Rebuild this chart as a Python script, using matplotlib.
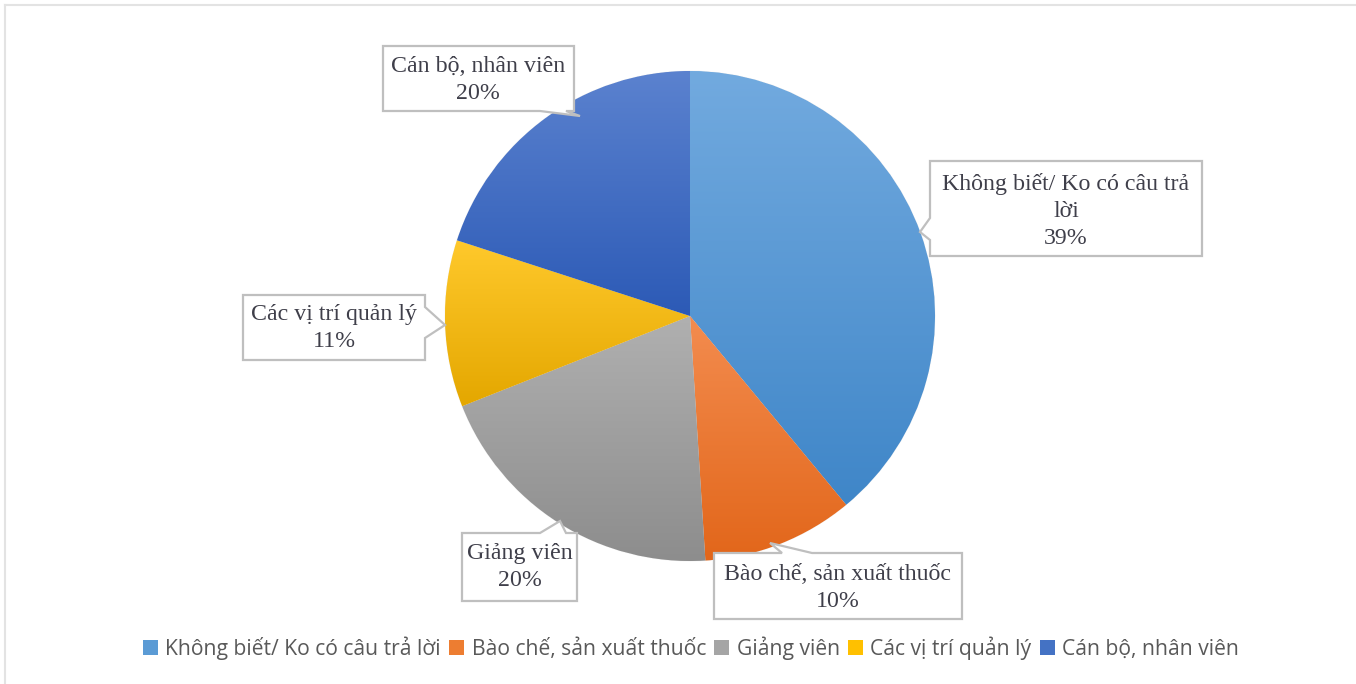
import numpy as np
import matplotlib
matplotlib.use("Agg")
import matplotlib.pyplot as plt
from matplotlib import font_manager
from matplotlib.patches import Polygon
from matplotlib.lines import Line2D
from matplotlib.colors import to_rgb

categories = ["Không biết/ Ko có câu trả lời", "Bào chế, sản xuất thuốc",
              "Giảng viên", "Các vị trí quản lý", "Cán bộ, nhân viên"]
values = [39, 10, 20, 11, 20]
box_labels = ["Không biết/ Ko có câu trả\nlời\n39%", "Bào chế, sản xuất thuốc\n10%",
              "Giảng viên\n20%", "Các vị trí quản lý\n11%", "Cán bộ, nhân viên\n20%"]
top_colors = ["#72aadf", "#f38c4f", "#b0b0b0", "#ffc92c", "#5b82cf"]
bot_colors = ["#3f86c8", "#e2661a", "#8d8d8d", "#e4a700", "#2c5ab6"]
solid_colors = ["#5b9bd5", "#ed7d31", "#a5a5a5", "#ffc000", "#4472c4"]

W, H = 1356, 684
fig = plt.figure(figsize=(W / 100, H / 100), dpi=100)
ax = fig.add_axes([0, 0, 1, 1])

def Y(y):
    return H - y

cx, cy, R = 690, Y(316), 245
wedges, _ = ax.pie(values, colors=solid_colors, startangle=90, counterclock=False,
                   center=(cx, cy), radius=R, frame=True,
                   wedgeprops=dict(edgecolor="#f2f2f2", linewidth=0.6))
ax.set_xlim(0, W)
ax.set_ylim(0, H)
ax.set_aspect("equal")
ax.axis("off")

# gradient fill per slice
for w, ct, cb in zip(wedges, top_colors, bot_colors):
    ext = w.get_path().get_extents()
    t = np.linspace(0, 1, 256)[:, None]
    a, b = np.array(to_rgb(ct)), np.array(to_rgb(cb))
    img = (a[None, None, :] * (1 - t[:, :, None]) + b[None, None, :] * t[:, :, None])
    im = ax.imshow(img, extent=(ext.x0, ext.x1, ext.y0, ext.y1), origin="upper",
                   aspect="auto", zorder=1.5, interpolation="bilinear")
    im.set_clip_path(w)
    w.set_zorder(1)

def callout(x0, y0, x1, y1, side, b0, b1, tip):
    pts = [(x0, y0)]
    if side == "top":
        pts += [(b0, y0), tip, (b1, y0)]
    pts += [(x1, y0)]
    if side == "right":
        pts += [(x1, b0), tip, (x1, b1)]
    pts += [(x1, y1)]
    if side == "bottom":
        pts += [(b1, y1), tip, (b0, y1)]
    pts += [(x0, y1)]
    if side == "left":
        pts += [(x0, b1), tip, (x0, b0)]
    pts = [(px, Y(py)) for px, py in pts]
    ax.add_patch(Polygon(pts, closed=True, facecolor="white", edgecolor="#bfbfbf",
                         linewidth=1.6, zorder=3))

boxes = [
    (930, 161, 1202, 256, "left", 218, 240, (920, 232)),
    (714, 553, 962, 619, "top", 782, 812, (770, 543)),
    (462, 533, 577, 601, "top", 540, 566, (560, 521)),
    (243, 295, 425, 360, "right", 307, 338, (445, 325)),
    (383, 46, 574, 111, "bottom", 540, 566, (580, 116)),
]
text_centers = [(1066, 211), (838, 588), (520, 567), (334, 328), (478, 80)]
serif = ["Liberation Serif", "DejaVu Serif"]
for (x0, y0, x1, y1, side, b0, b1, tip), (tx, ty), lab in zip(boxes, text_centers, box_labels):
    callout(x0, y0, x1, y1, side, b0, b1, tip)
    ax.text(tx, Y(ty), lab, ha="center", va="center", fontsize=17.2, family=serif,
            color="#3f3f4a", linespacing=1.38, zorder=4)

ax.add_line(Line2D([5, W], [Y(5), Y(5)], color="#e3e3e3", lw=1.5, zorder=0))
ax.add_line(Line2D([5, 5], [Y(5), 0], color="#e3e3e3", lw=1.5, zorder=0))

legend_family = "DejaVu Sans"
for fam in ["Liberation Sans Narrow", "Open Sans", "Lato"]:
    try:
        font_manager.findfont(font_manager.FontProperties(family=fam), fallback_to_default=False)
        legend_family = fam
        break
    except Exception:
        pass

handles = [plt.Rectangle((0, 0), 1, 1, facecolor=c, edgecolor="none") for c in solid_colors]
leg = fig.legend(handles, categories, loc="center",
                 bbox_to_anchor=(0.5 + 13 / W, 1 - 648 / H),
                 ncol=5, frameon=False, handlelength=0.7, handleheight=0.7,
                 handletextpad=0.35, columnspacing=0.4,
                 prop=dict(family=legend_family, size=15.2))
for t in leg.get_texts():
    t.set_color("#595959")

fig.savefig("out.png", dpi=100, facecolor="white")
